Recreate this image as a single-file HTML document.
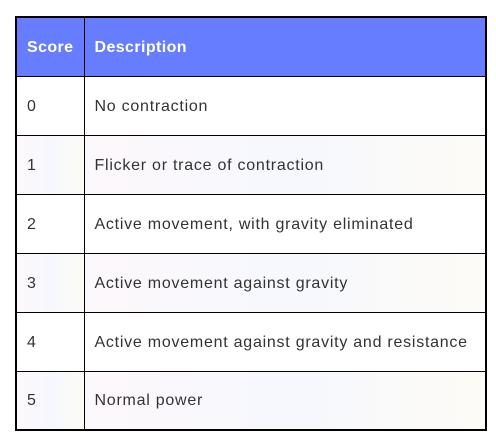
<!DOCTYPE html>
<html><head><meta charset="utf-8"><style>
html,body{margin:0;padding:0;background:#fff;width:496px;height:448px;overflow:hidden}
table{position:absolute;left:15px;top:16px;border-collapse:collapse;border:2px solid #000;font-family:"Liberation Sans",sans-serif;width:472px}
td,th{border:1px solid #000;padding:2px 0 0 10px;text-align:left;font-size:16px;color:#333;letter-spacing:0.75px;box-sizing:border-box}
th{background:#677dff;color:#fff;font-weight:bold;height:59px;letter-spacing:0.4px}
td{height:59px}
tr.alt td{background:linear-gradient(90deg,#fdf8fb,#f6f8fe 50%,#fdfbf6)}
.c1{width:68px}
</style></head><body>
<table>
<tr><th class="c1">Score</th><th>Description</th></tr>
<tr><td>0</td><td>No contraction</td></tr>
<tr class="alt"><td>1</td><td>Flicker or trace of contraction</td></tr>
<tr><td>2</td><td>Active movement, with gravity eliminated</td></tr>
<tr class="alt"><td>3</td><td>Active movement against gravity</td></tr>
<tr><td>4</td><td>Active movement against gravity and resistance</td></tr>
<tr class="alt"><td>5</td><td>Normal power</td></tr>
</table>
</body></html>
